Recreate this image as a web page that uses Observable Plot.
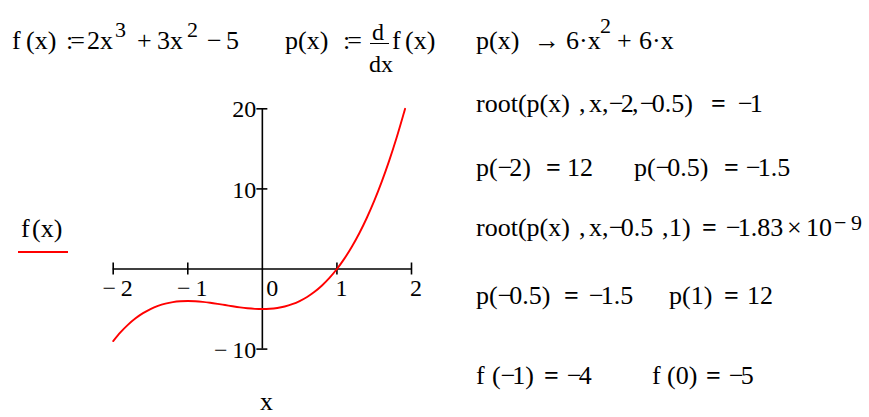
<!DOCTYPE html>
<html>
<head>
<meta charset="utf-8">
<script src="https://cdn.jsdelivr.net/npm/d3@7"></script>
<script src="https://cdn.jsdelivr.net/npm/@observablehq/plot@0.6"></script>
<style>
  body { margin: 0; background: #fff; }
  #page {
    position: relative; width: 869px; height: 417px; overflow: hidden;
    font-family: "Liberation Serif", "Times New Roman", serif; color: #000; background: #fff;
  }
  #page svg { position: absolute; left: 0; top: 0; }
  .t { position: absolute; white-space: pre; }
  .t .m { letter-spacing: -3px; }
  .t .c { letter-spacing: -3px; }
  .t.b { font-weight: bold; }
  .bar { position: absolute; border-top: 1.5px solid #000; height: 0; }
</style>
</head>
<body>
<div id="page"></div>
<script>
// Tick values of the crossed axes
const xTicks = [-2, -1, 0, 1, 2];
const yTicks = [-10, 10, 20];

// Sampled points of f(x) = 2x^3 + 3x^2 - 5 over the plotted range
const curveX = [-2, -1.9, -1.8, -1.7, -1.6, -1.5, -1.4, -1.3, -1.2, -1.1, -1,
  -0.9, -0.8, -0.7, -0.6, -0.5, -0.4, -0.3, -0.2, -0.1, 0,
  0.1, 0.2, 0.3, 0.4, 0.5, 0.6, 0.7, 0.8, 0.9, 1,
  1.1, 1.2, 1.3, 1.4, 1.5, 1.6, 1.7, 1.8, 1.9, 1.914];
const curveY = [-9, -7.888, -6.944, -6.156, -5.512, -5, -4.608, -4.324, -4.136, -4.032, -4,
  -4.028, -4.104, -4.216, -4.352, -4.5, -4.648, -4.784, -4.896, -4.972, -5,
  -4.968, -4.864, -4.676, -4.392, -4, -3.488, -2.844, -2.056, -1.112, 0,
  1.292, 2.776, 4.464, 6.368, 8.5, 10.872, 13.496, 16.384, 19.548, 20];

const points = curveX.map((x, i) => ({x, y: curveY[i]}));
const label = d => d < 0 ? "\u2212\u2009" + (-d) : String(d);
const TICK_FS = 24;

const page = document.getElementById("page");

const chart = Plot.plot({
  width: 869,
  height: 417,
  margin: 0,
  style: {fontFamily: "'Liberation Serif', 'Times New Roman', serif", fontSize: TICK_FS + "px", background: "transparent", color: "#000"},
  x: {domain: [xTicks[0], xTicks[xTicks.length - 1]], range: [112.7, 411], axis: null},
  y: {domain: [yTicks[0], yTicks[yTicks.length - 1]], range: [348.6, 108.3], axis: null},
  marks: [
    // axis lines crossing at the origin
    Plot.ruleY([0], {x1: xTicks[0], x2: xTicks[xTicks.length - 1], stroke: "#000", strokeWidth: 1.6}),
    Plot.ruleX([0], {y1: yTicks[0], y2: yTicks[yTicks.length - 1], stroke: "#000", strokeWidth: 1.6}),
    // tick marks straddling each axis
    Plot.ruleX(xTicks.filter(d => d !== 0), {x: d => d, y1: 0, y2: 0, insetTop: -6, insetBottom: -6, stroke: "#000", strokeWidth: 1.6}),
    Plot.ruleY(yTicks, {y: d => d, x1: 0, x2: 0, insetLeft: -5.5, insetRight: -5.5, stroke: "#000", strokeWidth: 1.6}),
    // tick labels
    Plot.text(xTicks.filter(d => d !== 0), {x: d => d, y: 0, text: label, lineAnchor: "top", dx: 4.5, dy: 10, fontSize: TICK_FS}),
    Plot.text(xTicks.filter(d => d === 0), {x: d => d, y: 0, text: label, lineAnchor: "top", dx: 10, dy: 10, fontSize: TICK_FS}),
    Plot.text(yTicks, {x: 0, y: d => d, text: label, textAnchor: "end", lineAnchor: "middle", dx: -6, dy: 1, fontSize: TICK_FS}),
    // the function
    Plot.line(points, {x: "x", y: "y", stroke: "#ff0000", strokeWidth: 1.9, curve: "catmull-rom"})
  ]
});
page.appendChild(chart);

// Worksheet text: [text, left, baseline, size, bold]
const FS = 26, SUP = 22, FR = 24;
const pieces = [
  // f(x) := 2x^3 + 3x^2 - 5
  ["f", 12, 50], ["(x)", 26, 50], [":=", 66, 50], ["2x", 87, 50], ["3", 115, 37, SUP],
  ["+", 137, 50], ["3x", 157, 50], ["2", 187, 37, SUP], ["\u2212", 207, 50], ["5", 226, 50],
  // p(x) := d/dx f(x)
  ["p(x)", 285, 50], [":=", 343, 50], ["d", 372, 40, FR], ["dx", 369, 72, FR], ["f", 392, 50], ["(x)", 405, 50],
  // p(x) -> 6x^2 + 6x
  ["p(x)", 476, 50], ["\u2192", 534, 50], ["6\u00b7x", 566, 50], ["2", 600, 33, SUP], ["+", 617, 50], ["6\u00b7x", 639, 50],
  // root(p(x), x, -2, -0.5) = -1
  ["root(p(x)", 476, 113], [",", 579, 113], ["x", 589, 113], [",", 602, 113], ["\u22122", 609, 113], [",", 632, 113],
  ["\u22120.5)", 640, 113], ["=", 711, 113, FS, true], ["\u22121", 738, 113],
  // p(-2) = 12    p(-0.5) = -1.5
  ["p(\u22122)", 476, 177], ["=", 546, 177, FS, true], ["12", 567, 177],
  ["p(\u22120.5)", 634, 177], ["=", 724, 177, FS, true], ["\u22121.5", 746, 177],
  // root(p(x), x, -0.5, 1) = -1.83 x 10^-9
  ["root(p(x)", 476, 237], [",", 579, 237], ["x", 589, 237], [",", 602, 237], ["\u22120.5", 609, 237], [",", 662, 237],
  ["1)", 669, 237], ["=", 702, 237, FS, true], ["\u22121.83", 726, 237], ["\u00d7", 787, 237], ["10", 806, 237],
  ["\u2212", 834, 230, SUP], ["9", 851, 230, SUP],
  // p(-0.5) = -1.5    p(1) = 12
  ["p(\u22120.5)", 476, 305], ["=", 564, 305, FS, true], ["\u22121.5", 589, 305],
  ["p(1)", 669, 305], ["=", 724, 305, FS, true], ["12", 747, 305],
  // f(-1) = -4    f(0) = -5
  ["f", 476, 385], ["(\u22121)", 492, 385], ["=", 544, 385, FS, true], ["\u22124", 567, 385],
  ["f", 652, 385], ["(0)", 667, 385], ["=", 706, 385, FS, true], ["\u22125", 729, 385],
  // legend
  ["f", 21, 238], ["(x)", 32, 238]
];

function put(text, x, base, size = FS, bold = false, lh = 1) {
  const s = document.createElement("span");
  s.className = bold ? "t b" : "t";
  // a minus sign written before a number sits tight against it; the colon of := hugs its equals
  for (let i = 0; i < text.length; i++) {
    const ch = text[i];
    const tight = (ch === "\u2212" && i < text.length - 1) ? "m" : (ch === ":" && text[i + 1] === "=") ? "c" : null;
    if (tight) {
      const m = document.createElement("span");
      m.className = tight;
      m.textContent = ch;
      s.appendChild(m);
    } else {
      s.appendChild(document.createTextNode(ch));
    }
  }
  s.style.fontSize = size + "px";
  s.style.lineHeight = (lh * size) + "px";
  s.style.left = x + "px";
  // place the baseline: half-leading plus the font ascent
  s.style.top = (base - ((lh - 1.107) / 2 + 0.891) * size) + "px";
  page.appendChild(s);
}

for (const [text, x, base, size, bold] of pieces) put(text, x, base, size, bold);

// the plot's variable name under the x axis, kept inside the page
put("x", 260, 411, FS, false, 0.85);

// fraction bar of d/dx
const bar = document.createElement("div");
bar.className = "bar";
bar.style.left = "370px"; bar.style.top = "43px"; bar.style.width = "19px";
page.appendChild(bar);

// legend line under f(x)
const key = document.createElement("div");
key.style.cssText = "position:absolute;left:18px;top:251px;width:50px;height:0;border-top:2px solid #ff0000";
page.appendChild(key);
</script>
</body>
</html>
